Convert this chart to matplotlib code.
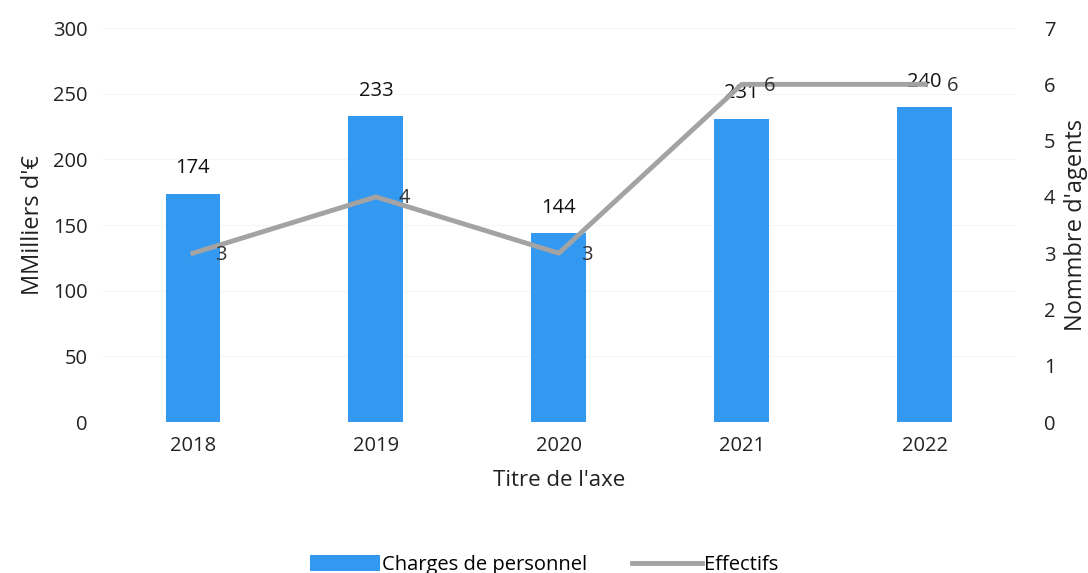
import matplotlib.pyplot as plt
import numpy as np

annees = ['2018', '2019', '2020', '2021', '2022']
charges = [174, 233, 144, 231, 240]
effectifs = [3, 4, 3, 6, 6]

plt.rcParams['font.family'] = ['Open Sans', 'DejaVu Sans']

fig = plt.figure(figsize=(10.88, 5.73), dpi=100)
ax = fig.add_axes([0.0933, 0.2635, 0.8407, 0.6875])
x = np.arange(len(annees))

bleu = '#3399f0'
gris = '#a3a3a3'

barres = ax.bar(x, charges, width=0.3, color=bleu, label='Charges de personnel', zorder=2)
ax.set_xlim(-0.5, len(annees) - 0.5)
ax.set_ylim(0, 300)
ax.set_yticks(range(0, 301, 50))
ax.set_xticks(x)
ax.set_xticklabels(annees)
ax.grid(axis='y', color='#f6f6f6', lw=0.8, zorder=0)
ax.set_axisbelow(True)
for s in ax.spines.values():
    s.set_visible(False)
ax.tick_params(length=0, labelsize=14.5, colors='#222222', pad=10)
ax.set_ylabel("MMilliers d'€", fontsize=17, color='#222222', labelpad=6)
ax.set_xlabel("Titre de l'axe", fontsize=16, color='#222222', labelpad=10)

for xi, v in zip(x, charges):
    ax.annotate(str(v), (xi, v), xytext=(0, 11), textcoords='offset points',
                ha='center', va='bottom', fontsize=14.5, color='#111111')

ax2 = ax.twinx()
ligne, = ax2.plot(x, effectifs, color=gris, lw=3.5, label='Effectifs', zorder=3)
ax2.set_ylim(0, 7)
ax2.set_yticks(range(0, 8))
for s in ax2.spines.values():
    s.set_visible(False)
ax2.tick_params(length=0, labelsize=14.5, colors='#222222', pad=20)
ax2.set_ylabel("Nommbre d'agents", fontsize=17, color='#222222', labelpad=6)

for xi, v in zip(x, effectifs):
    ax2.annotate(str(v), (xi, v), xytext=(16, -1), textcoords='offset points',
                 ha='left', va='center', fontsize=14.5, color='#333333')

fig.legend([barres, ligne], ['Charges de personnel', 'Effectifs'], loc='lower center',
           bbox_to_anchor=(0.5, -0.035), ncol=2, frameon=False, fontsize=14.5,
           handlelength=3.5, handleheight=0.8, columnspacing=2.2, handletextpad=0.1)

fig.savefig('out.png', dpi=100)
